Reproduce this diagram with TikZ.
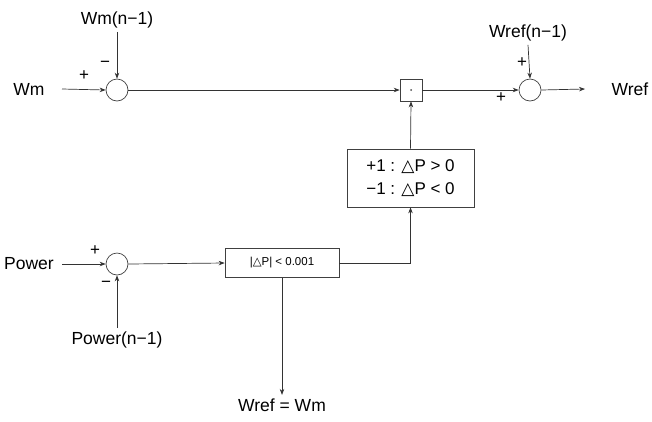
\documentclass[tikz,border=0pt]{standalone}
\usepackage{fontspec}
\setmainfont{Liberation Sans}
\newfontfamily\symfont{DejaVu Sans}
\usetikzlibrary{arrows.meta,positioning}
\newcommand{\dP}{{\symfont\char"25B3}P}

\begin{document}
\begin{tikzpicture}[x=1pt,y=-1pt,line width=0.7pt,
		sig/.style={font=\fontsize{17.5}{20}\selectfont},
		pm/.style={font=\fontsize{17}{18}\selectfont,inner sep=0pt},
		sumnode/.style={draw=black!75,circle,minimum size=22pt,inner sep=0pt},
		blk/.style={draw=black!75,rectangle,inner sep=2pt},
		arr/.style={draw=black!80,-{Stealth[length=6pt,width=4.5pt]}},
		wire/.style={draw=black!80}]
		\useasboundingbox (0,0) rectangle (652,421);
		% top row
		\node[sig] (wm) at (29,89) {Wm};
		\node[sumnode] (sum_wm) at (117,90) {};
		\node[sig] (wm_prev) at (117,20) {Wm(n−1)};
		\node[blk,minimum size=22pt] (mult) at (411,90) {};
		\fill[black!70] (mult.center) circle (1pt);
		\node[sumnode] (sum_ref) at (530,90) {};
		\node[sig] (ref_prev) at (528,33) {Wref(n−1)};
		\node[sig] (wref) at (630,89) {Wref};
		\coordinate (wm_in) at (62,89);
		\coordinate (ref_out) at (585,89);
		\draw[arr] (wm_in) -- (sum_wm.west);
		\draw[arr] (wm_prev.south) -- (sum_wm.north);
		\draw[arr] (sum_wm.east) -- (mult.west);
		\draw[arr] (mult.east) -- (sum_ref.west);
		\draw[arr] (ref_prev.south) -- (sum_ref.north);
		\draw[arr] (sum_ref.east) -- (ref_out);
		\node[pm] at (84,76) {+};
		\node[pm] at (105,64) {−};
		\node[pm] at (522,63) {+};
		\node[pm] at (501,98) {+};
		% sign block
		\node[blk,minimum width=127pt,minimum height=58pt,align=left,
			font=\fontsize{17}{23}\selectfont] (sign) at (410.5,178)
			{+1 : \dP{} > 0\\−1 : \dP{} < 0};
		\draw[arr] (sign.north) -- (mult.south);
		% bottom row
		\node[sig] (pw) at (29,264) {Power};
		\node[sumnode] (sum_pw) at (117,264) {};
		\node[sig] (pw_prev) at (117,340) {Power(n−1)};
		\node[blk,minimum width=114pt,minimum height=29pt,
			font=\fontsize{11.5}{13}\selectfont] (cmp) at (282,263) {|\dP| < 0.001};
		\node[sig] (eq) at (282,405) {Wref = Wm};
		\coordinate (pw_in) at (62,264);
		\draw[arr] (pw_in) -- (sum_pw.west);
		\draw[arr] (pw_prev.north) -- (sum_pw.south);
		\draw[arr] (sum_pw.east) -- (cmp.west);
		\draw[arr] (cmp.east) -| (sign.south);
		\draw[arr] (cmp.south) -- (eq.north);
		\node[pm] at (95,251) {+};
		\node[pm] at (106,284) {−};
	\end{tikzpicture}
\end{document}
